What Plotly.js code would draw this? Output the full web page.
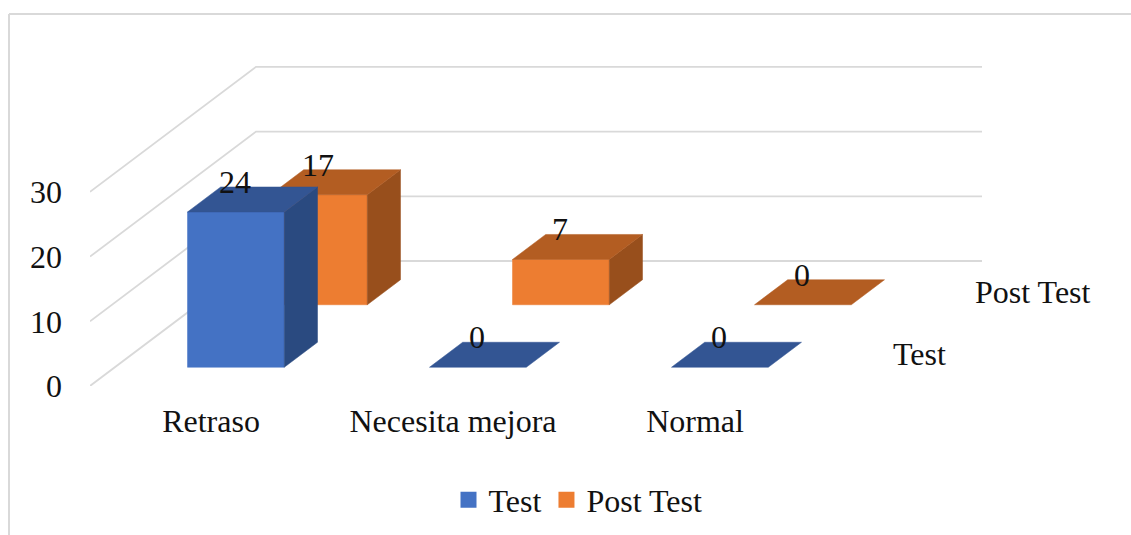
<!DOCTYPE html>
<html><head><meta charset="utf-8">
<script src="https://cdn.plot.ly/plotly-3.0.1.min.js"></script>
<style>html,body{margin:0;padding:0;background:#fff;overflow:hidden}</style>
</head><body><div id="chart" style="width:1131px;height:535px"></div>
<script>
const categories = ['Retraso', 'Necesita mejora', 'Normal'];
const seriesNames = ['Test', 'Post Test'];
const testValues = [24, 0, 0];
const postTestValues = [17, 7, 0];
const yTicks = [0, 10, 20, 30];

const FONT = '"Liberation Serif","Times New Roman",serif';
const SIZE = 32;
const TXT = '#111111';
const GRID = '#d9d9d9';
const PXX = 242, PXY = 6.47;          // pixels per category / per value unit
const L = 90, BASE = 386;             // plot left edge and zero line, pixels
const DX = 83 / PXX, DY = 62.5 / PXY; // oblique shift of one series slot
const BAR = 0.2, D0 = 0.3, D1 = 0.7;  // half bar width, depth extent in a slot

const proj = (c, d, v) => [c + d * DX, v + d * DY];
const traces = [];
function poly(pts, color) {
  const p = pts.map(a => proj(a[0], a[1], a[2]));
  p.push(p[0]);
  traces.push({type: 'scatter', mode: 'lines', x: p.map(a => a[0]), y: p.map(a => a[1]),
    fill: 'toself', fillcolor: color, line: {color: color, width: 0.5},
    showlegend: false, hoverinfo: 'skip'});
}
function bar(cat, slot, v, c) {
  const a = cat - BAR, b = cat + BAR, n = slot + D0, f = slot + D1;
  if (v > 0) {
    poly([[a, n, 0], [b, n, 0], [b, n, v], [a, n, v]], c.front);
    poly([[b, n, 0], [b, f, 0], [b, f, v], [b, n, v]], c.side);
  }
  poly([[a, n, v], [b, n, v], [b, f, v], [a, f, v]], c.top);
}
function gridLine(pts) {
  const p = pts.map(a => proj(a[0], a[1], a[2]));
  traces.push({type: 'scatter', mode: 'lines', x: p.map(a => a[0]), y: p.map(a => a[1]),
    line: {color: GRID, width: 1.8}, cliponaxis: false, showlegend: false, hoverinfo: 'skip'});
}
const xEnd = categories.length - 0.5;
yTicks.forEach(t => gridLine([[-0.5, 0, t], [-0.5, 2, t], [xEnd, 2, t]]));

const testColors = {front: '#4472C4', top: '#335593', side: '#2A4A80'};
const postColors = {front: '#ED7D31', top: '#B35D22', side: '#984F1C'};
categories.forEach((_, i) => bar(i, 1, postTestValues[i], postColors));
categories.forEach((_, i) => bar(i, 0, testValues[i], testColors));

function labels(vals, slot) {
  return vals.map((v, i) => {
    const p = proj(i, slot + D0, v);
    return {x: p[0], y: p[1], text: String(v), showarrow: false, xanchor: 'center', yanchor: 'middle',
      yshift: 30, xshift: -1, font: {family: FONT, size: SIZE, color: TXT}};
  });
}

seriesNames.forEach((name, i) => traces.push({type: 'scatter', mode: 'markers', name: name,
  x: [null], y: [null], marker: {symbol: 'square', size: 16, color: [testColors, postColors][i].front}}));

const depthLabels = seriesNames.map((name, i) => {
  const p = proj(xEnd, i + 0.5, 0);
  return {x: p[0], y: p[1], text: name, showarrow: false, xanchor: 'left', xshift: [33, 32][i], yshift: [1, 0][i],
    font: {family: FONT, size: SIZE, color: TXT}};
});

const plotH = BASE, plotW = 1131 - L;
const paperX = px => (px - L) / plotW;
const paperY = px => (BASE - px) / plotH;
const layout = {
  width: 1131, height: 535, autosize: false,
  margin: {l: L, r: 0, t: 0, b: 535 - BASE, pad: 0},
  paper_bgcolor: '#fff', plot_bgcolor: 'rgba(0,0,0,0)',
  font: {family: FONT, size: SIZE, color: TXT},
  xaxis: {range: [-0.5, -0.5 + plotW / PXX], tickmode: 'array', tickvals: categories.map((_, i) => i),
    ticktext: categories, showgrid: false, zeroline: false, showline: false, ticks: '',
    ticklabelstandoff: 13, tickangle: 0, fixedrange: true},
  yaxis: {range: [0, plotH / PXY], tickmode: 'array', tickvals: yTicks, ticktext: yTicks.map(String),
    showgrid: false, zeroline: false, showline: false, ticks: '', ticklabelstandoff: 27, fixedrange: true},
  showlegend: true,
  legend: {orientation: 'h', x: paperX(578), xanchor: 'center', y: paperY(500), yanchor: 'middle',
    bgcolor: 'rgba(0,0,0,0)', font: {family: FONT, size: SIZE, color: TXT}},
  annotations: depthLabels.concat(labels(testValues, 0), labels(postTestValues, 1)),
  shapes: [
    {type: 'line', xref: 'paper', yref: 'paper', x0: paperX(9), x1: paperX(1131), y0: paperY(14), y1: paperY(14),
      line: {color: GRID, width: 2}},
    {type: 'line', xref: 'paper', yref: 'paper', x0: paperX(9), x1: paperX(9), y0: paperY(14), y1: paperY(535),
      line: {color: GRID, width: 2}}
  ]
};
Plotly.newPlot('chart', traces, layout, {displayModeBar: false, staticPlot: true});
</script></body></html>
